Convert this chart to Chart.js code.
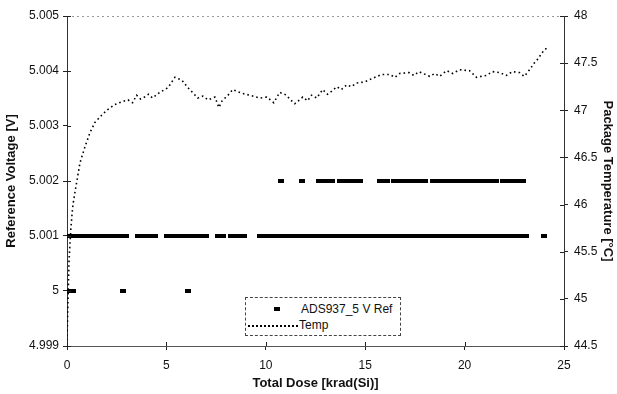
<!DOCTYPE html>
<html>
<head>
<meta charset="utf-8">
<script src="https://cdn.jsdelivr.net/npm/chart.js@4/dist/chart.umd.min.js"></script>
<style>
  body { margin: 0; background: #fff; }
  #wrap { position: relative; width: 617px; height: 394px; }
  #leyenda {
    position: absolute; left: 245px; top: 297px; width: 154px; height: 37px;
    border: 1px dashed #444; background: #fff;
    font: 12px "Liberation Sans", Arial, sans-serif; color: #111;
  }
  #leyenda .fila { position: absolute; left: 0; height: 14px; line-height: 14px; }
  .marca { position: absolute; left: 28px; top: 5px; width: 6px; height: 4px; background: #000; }
  .punteado { position: absolute; left: 2px; top: 7px; width: 50px; border-top: 2px dotted #000; }
</style>
</head>
<body>
<div id="wrap">
  <canvas id="grafico" width="617" height="394"></canvas>
  <div id="leyenda">
    <div class="fila" style="top:4px;width:154px;"><span class="marca"></span><span style="position:absolute;left:55px;">ADS937_5 V Ref</span></div>
    <div class="fila" style="top:20px;width:154px;"><span class="punteado"></span><span style="position:absolute;left:53px;">Temp</span></div>
  </div>
</div>
<script>
// Valores
const ref_5000 = [0.05, 0.2, 0.3, 2.8, 6.1];
const ref_5001 = [0, 0.2, 0.4, 0.6, 0.8, 1, 1.2, 1.4, 1.6, 1.8, 2, 2.2, 2.4, 2.6, 2.8, 2.95,
  3.55, 3.75, 3.95, 4.15, 4.35, 4.45,
  5.05, 5.25, 5.45, 5.65, 5.85, 6.05, 6.25, 6.45,
  6.7, 6.9, 7.0,
  7.6, 7.85,
  8.25, 8.45, 8.65, 8.9,
  9.7, 9.9, 10.1, 10.3, 10.5, 10.7, 10.9, 11.1, 11.3, 11.5, 11.7, 11.9, 12.1, 12.3, 12.5, 12.7,
  12.9, 13.1, 13.3, 13.5, 13.7, 13.9, 14.1, 14.3, 14.5, 14.7, 14.9, 15.1, 15.3, 15.5, 15.7, 15.9,
  16.1, 16.3, 16.5, 16.7, 16.9, 17.1, 17.3, 17.5, 17.7, 17.9, 18.1, 18.3, 18.5, 18.7, 18.9, 19.1,
  19.3, 19.5, 19.7, 19.9, 20.1, 20.3, 20.5, 20.7, 20.9, 21.1, 21.3, 21.5, 21.7, 21.9, 22.1, 22.3,
  22.5, 22.7, 22.9, 23.1,
  24.0];
const ref_5002 = [10.75, 11.8,
  12.7, 12.9, 13.1, 13.35,
  13.75, 13.95, 14.15, 14.35, 14.55, 14.75,
  15.75, 15.95, 16.1,
  16.45, 16.65, 16.85, 17.05, 17.25, 17.45, 17.65, 17.85, 18.0,
  18.4, 18.7,
  19.0, 19.2, 19.4, 19.6, 19.8, 20.0, 20.2, 20.4, 20.6, 20.8, 21.0, 21.2, 21.4, 21.6,
  21.95, 22.15, 22.35, 22.55, 22.75, 22.95];

const temp_dosis = [0, 0.05, 0.1, 0.15, 0.2, 0.25, 0.3, 0.4, 0.65, 0.9, 1.15, 1.4, 1.66, 2.0, 2.4, 2.76,
  3.07, 3.3, 3.5, 3.7, 3.9, 4.1, 4.3, 4.67, 5.08, 5.43, 5.78, 6.08, 6.58, 6.83, 7.1, 7.44, 7.64, 7.8, 8.1, 8.34, 8.79,
  9.2, 9.7, 10.05, 10.4, 10.7, 11.05, 11.2, 11.46, 11.86, 12.1, 12.3, 12.56, 12.86, 13.1, 13.3, 13.57, 13.8, 14.07,
  14.3, 14.57, 14.97, 15.38, 15.83, 16.23, 16.5, 16.73, 17.2, 17.45, 17.7, 18.24, 18.5, 18.74, 19.1, 19.4, 19.75, 20.25,
  20.6, 21.1, 21.4, 21.76, 22.1, 22.4, 22.76, 23.0, 23.27, 23.5, 23.67, 24.0, 24.15];
const temp_valor = [44.56, 44.99, 45.39, 45.59, 45.76, 45.89, 46.0, 46.13, 46.44, 46.61, 46.76, 46.87, 46.93, 47.0, 47.06, 47.09,
  47.11, 47.08, 47.16, 47.12, 47.14, 47.17, 47.13, 47.19, 47.24, 47.35, 47.32, 47.24, 47.13, 47.15, 47.11, 47.14, 47.03, 47.1, 47.16, 47.22, 47.18,
  47.16, 47.13, 47.14, 47.08, 47.19, 47.16, 47.12, 47.07, 47.14, 47.1, 47.16, 47.13, 47.22, 47.17, 47.2, 47.25, 47.22, 47.27,
  47.25, 47.29, 47.30, 47.34, 47.38, 47.38, 47.35, 47.39, 47.40, 47.37, 47.41, 47.36, 47.39, 47.36, 47.42, 47.39, 47.43, 47.42,
  47.35, 47.37, 47.41, 47.40, 47.37, 47.41, 47.40, 47.36, 47.43, 47.5, 47.54, 47.64, 47.66];

const ticks_volt = [4.999, 5, 5.001, 5.002, 5.003, 5.004, 5.005];
const etiquetas_volt = ["4.999", "5", "5.001", "5.002", "5.003", "5.004", "5.005"];
const ticks_temp = [44.5, 45, 45.5, 46, 46.5, 47, 47.5, 48];
const etiquetas_temp = ["44.5", "45", "45.5", "46", "46.5", "47", "47.5", "48"];

// marca tipo guion para los puntos
const guion = document.createElement("canvas");
guion.width = 6; guion.height = 4;
const g = guion.getContext("2d");
g.fillStyle = "#000";
g.fillRect(0, 0, 6, 4);

let puntos_ref = [];
ref_5000.forEach(x => puntos_ref.push({x: x, y: 5.000}));
ref_5001.forEach(x => puntos_ref.push({x: x, y: 5.001}));
ref_5002.forEach(x => puntos_ref.push({x: x, y: 5.002}));

const puntos_temp = temp_dosis.map((x, i) => ({x: x, y: temp_valor[i]}));

const fuente = {family: "'Liberation Sans', Arial, sans-serif", size: 12};
const fuenteTitulo = {family: "'Liberation Sans', Arial, sans-serif", size: 13, weight: "bold"};

// borde de arriba punteado y marcas hacia dentro
const bordes = {
  id: "bordes",
  afterDraw(chart) {
    const a = chart.chartArea;
    const ctx = chart.ctx;
    ctx.save();
    ctx.strokeStyle = "#999";
    ctx.lineWidth = 1;
    ctx.setLineDash([2, 3]);
    ctx.beginPath();
    ctx.moveTo(a.left, a.top + 0.5);
    ctx.lineTo(a.right, a.top + 0.5);
    ctx.stroke();
    ctx.setLineDash([]);
    ctx.strokeStyle = "#222";
    ctx.beginPath();
    chart.scales.y.ticks.forEach(t => {
      const py = Math.round(chart.scales.y.getPixelForValue(t.value)) + 0.5;
      ctx.moveTo(a.left, py); ctx.lineTo(a.left + 4, py);
    });
    chart.scales.y2.ticks.forEach(t => {
      const py = Math.round(chart.scales.y2.getPixelForValue(t.value)) + 0.5;
      ctx.moveTo(a.right - 4, py); ctx.lineTo(a.right, py);
    });
    chart.scales.x.ticks.forEach(t => {
      const px = Math.round(chart.scales.x.getPixelForValue(t.value)) + 0.5;
      ctx.moveTo(px, a.bottom - 4); ctx.lineTo(px, a.bottom);
    });
    ctx.stroke();
    ctx.restore();
  }
};

new Chart(document.getElementById("grafico"), {
  type: "scatter",
  data: {
    datasets: [
      {
        label: "ADS937_5 V Ref",
        data: puntos_ref,
        yAxisID: "y",
        pointStyle: guion,
        pointRadius: 3,
        showLine: false,
        order: 2
      },
      {
        type: "line",
        label: "Temp",
        data: puntos_temp,
        yAxisID: "y2",
        borderColor: "#000",
        borderWidth: 1.6,
        borderDash: [1.6, 3],
        pointRadius: 0,
        fill: false,
        tension: 0,
        order: 1
      }
    ]
  },
  options: {
    responsive: false,
    animation: false,
    events: [],
    layout: {padding: {top: 16, left: 0, right: 0, bottom: 0}},
    plugins: {legend: {display: false}, tooltip: {enabled: false}},
    scales: {
      x: {
        type: "linear", min: 0, max: 25,
        ticks: {stepSize: 5, color: "#111", font: fuente, padding: 8, maxRotation: 0},
        grid: {drawOnChartArea: false, color: "#222", tickLength: 4},
        border: {color: "#555", width: 1},
        title: {display: true, text: "Total Dose [krad(Si)]", color: "#111", font: fuenteTitulo, padding: {top: 3, bottom: 3}},
        afterFit: s => { s.height = 48; }
      },
      y: {
        position: "left", min: 4.999, max: 5.005,
        afterBuildTicks: s => { s.ticks = ticks_volt.map(v => ({value: v})); },
        ticks: {color: "#111", font: fuente, padding: 4, callback: (v, i) => etiquetas_volt[i]},
        grid: {drawOnChartArea: false, color: "#222", tickLength: 4},
        border: {color: "#333", width: 1, dash: [5, 2]},
        title: {display: true, text: "Reference Voltage [V]", color: "#111", font: fuenteTitulo, padding: {top: 4, bottom: 4}},
        afterFit: s => { s.width = 67; }
      },
      y2: {
        position: "right", min: 44.5, max: 48,
        afterBuildTicks: s => { s.ticks = ticks_temp.map(v => ({value: v})); },
        ticks: {color: "#111", font: fuente, padding: 6, callback: (v, i) => etiquetas_temp[i]},
        grid: {drawOnChartArea: false, color: "#222", tickLength: 4},
        border: {color: "#333", width: 1, dash: [5, 2]},
        title: {display: true, text: "Package Temperature [°C]", color: "#111", font: fuenteTitulo, padding: {top: 2, bottom: 2}},
        afterFit: s => { s.width = 53; }
      }
    }
  },
  plugins: [bordes]
});
</script>
</body>
</html>
